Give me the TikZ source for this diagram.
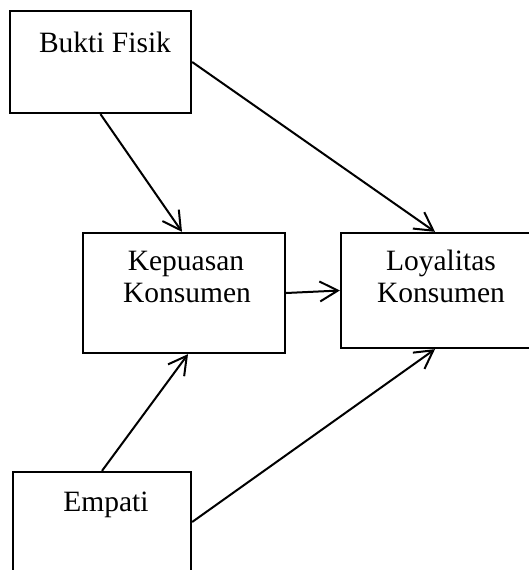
\documentclass[tikz,border=0pt]{standalone}
\usepackage{fontspec}
\setmainfont{Liberation Serif}
\usetikzlibrary{arrows.meta}
\begin{document}
\begin{tikzpicture}[x=1pt,y=-1pt,
  box/.style={draw=black, line width=2.3pt, inner sep=0pt, rectangle},
  lbl/.style={anchor=base, inner sep=0pt, font=\fontsize{29.5}{32}\selectfont},
  link/.style={line width=2pt, -{Straight Barb[length=18pt,width=20pt]}}]
\useasboundingbox (0,0) rectangle (529,570);
\fill[white] (0,0) rectangle (529,570);
% boxes
\node[box, minimum width=181pt, minimum height=102pt] (bf) at (100.5,62) {};
\node[box, minimum width=202pt, minimum height=120pt] (kk) at (184,293) {};
\node[box, minimum width=199pt, minimum height=115pt] (lk) at (440.5,290.5) {};
\node[box, minimum width=178pt, minimum height=108pt] (em) at (102,526) {};
% texts
\node[lbl] (bft) at (105,52) {Bukti Fisik};
\node[lbl] (kkt1) at (186,270) {Kepuasan};
\node[lbl] (kkt2) at (187,302) {Konsumen};
\node[lbl] (lkt1) at (441,270) {Loyalitas};
\node[lbl] (lkt2) at (441,302) {Konsumen};
\node[lbl] (emt) at (106,511) {Empati};
% connectors
\draw[link] (bf.south) -- ([xshift=-2pt]kk.north);
\draw[link] (bf.east) -- ([xshift=-5.5pt]lk.north);
\draw[link] (kk.east) -- (lk.west);
\draw[link] (em.north) -- ([xshift=4pt]kk.south);
\draw[link] ([yshift=4pt]em.east) -- ([xshift=-5.5pt]lk.south);
\end{tikzpicture}
\end{document}
